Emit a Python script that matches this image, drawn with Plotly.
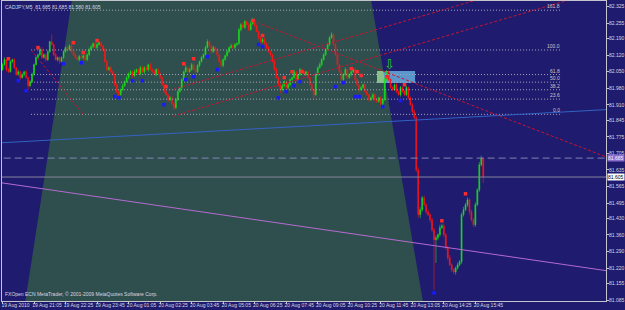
import plotly.graph_objects as go

# ---------------- data ----------------
symbol_title = "CADJPY,M5  81.685 81.685 81.580 81.605"
copyright_text = "FXOpen ECN MetaTrader, \u00a9 2001-2009 MetaQuotes Software Corp."

first_open = 82.059
closes = [
    82.080, 82.101, 82.059, 82.050, 82.093,
    82.101, 82.067, 82.038, 82.050, 82.025,
    82.038, 82.050, 82.025, 81.991, 82.008,
    82.038, 82.080, 82.110, 82.122, 82.144,
    82.110, 82.122, 82.101, 82.135, 82.177,
    82.165, 82.122, 82.101, 82.110, 82.093,
    82.110, 82.135, 82.152, 82.144, 82.160,
    82.135, 82.122, 82.110, 82.101, 82.114,
    82.110, 82.118, 82.101, 82.122, 82.144,
    82.156, 82.169, 82.152, 82.165, 82.173, 82.160,
    82.144, 82.093, 82.059, 82.067, 82.050,
    82.038, 81.995, 81.966, 81.953, 81.974,
    81.991, 82.008, 82.025, 82.042, 82.050,
    82.034, 82.050, 82.059, 82.042, 82.067,
    82.050, 82.067, 82.059, 82.080, 82.059,
    82.050, 82.038, 82.059, 82.042, 82.025,
    81.995, 81.966, 81.953, 81.932, 81.940,
    81.915, 81.898, 81.932, 81.966, 81.983,
    82.017, 82.050, 82.067, 82.050, 82.059,
    82.080, 82.059, 82.050, 82.076, 82.093, 82.110,
    82.122, 82.152, 82.177, 82.160, 82.135,
    82.152, 82.144, 82.122, 82.093, 82.076,
    82.101, 82.118, 82.135, 82.152, 82.160,
    82.152, 82.165, 82.169, 82.228, 82.249,
    82.237, 82.262, 82.249, 82.228, 82.253,
    82.270, 82.245, 82.220, 82.194, 82.177,
    82.186, 82.169, 82.152, 82.135, 82.122,
    82.093, 82.059, 82.025, 81.995, 81.974,
    81.991, 82.008, 81.983, 81.995, 82.017,
    82.025, 82.050, 82.017, 82.038, 82.059, 82.050,
    82.038, 82.050, 82.025, 81.995, 81.974,
    81.953, 82.038, 82.067, 82.080, 82.101,
    82.122, 82.144, 82.165, 82.194, 82.207,
    82.165, 82.122, 82.080, 82.050, 82.017,
    82.038, 82.059, 82.025, 82.038, 82.050,
    82.059, 82.017, 81.995, 81.974, 81.983,
    81.995, 81.966, 81.953, 81.932, 81.940,
    81.953, 81.932, 81.924, 81.940, 81.915,
    81.932, 82.017, 82.050, 82.017, 81.983,
    81.974, 81.995, 81.966, 81.953, 81.983, 81.966,
    81.953, 81.983, 81.940, 81.911, 81.881,
    81.856, 81.636, 81.446, 81.467, 81.517,
    81.488, 81.458, 81.446, 81.424, 81.382,
    81.340, 81.348, 81.361, 81.391, 81.399,
    81.361, 81.306, 81.264, 81.234, 81.213,
    81.204, 81.221, 81.234, 81.247, 81.446,
    81.467, 81.488, 81.509, 81.458, 81.424,
    81.403, 81.488, 81.551, 81.657, 81.685,
    81.605,
]
upper_wicks = [
    .006, .010, .004, .008, .005,
    .004, .007, .003, .009, .005,
    .006, .004, .008, .005, .007,
    .009, .005, .006, .004, .008,
    .010, .006, .005, .007, .004,
    .030, .005, .008, .004, .006,
    .005, .007, .004, .009, .006,
    .008, .005, .006, .004, .007,
    .006, .004, .009, .005, .008,
    .007, .005, .004, .008, .006, .005,
    .004, .006, .008, .005, .007,
    .006, .004, .007, .009, .005,
    .008, .005, .006, .004, .007,
    .005, .009, .004, .006, .008,
    .007, .005, .006, .004, .009,
    .006, .008, .005, .007, .004,
    .005, .006, .009, .004, .007,
    .008, .005, .006, .007, .004,
    .006, .004, .012, .005, .008,
    .007, .009, .005, .006, .004, .006,
    .005, .008, .010, .006, .004,
    .007, .005, .006, .004, .008,
    .006, .004, .007, .005, .009,
    .005, .006, .004, .008, .006,
    .010, .007, .005, .009, .012,
    .008, .006, .005, .004, .007,
    .006, .009, .005, .007, .004,
    .005, .006, .008, .004, .007,
    .009, .006, .005, .007, .004,
    .006, .008, .005, .004, .007, .005,
    .007, .004, .006, .005, .008,
    .004, .006, .005, .009, .007,
    .006, .005, .008, .006, .010,
    .007, .005, .006, .004, .008,
    .006, .009, .005, .007, .004,
    .005, .007, .006, .004, .008,
    .006, .004, .007, .005, .006,
    .008, .005, .006, .004, .007,
    .005, .007, .009, .006, .004,
    .006, .005, .008, .004, .007, .005,
    .006, .008, .004, .005, .007,
    .009, .006, .010, .012, .008,
    .010, .007, .012, .006, .009,
    .008, .010, .006, .012, .009,
    .010, .007, .008, .012, .006,
    .008, .006, .010, .007, .009,
    .012, .008, .010, .006, .009,
    .008, .010, .006, .012, .010,
    .000,
]
lower_wicks = [
    .005, .004, .008, .006, .003,
    .007, .005, .006, .004, .009,
    .004, .008, .005, .018, .006,
    .005, .007, .004, .006, .005,
    .006, .004, .008, .005, .007,
    .005, .006, .004, .008, .010,
    .004, .006, .005, .007, .004,
    .006, .005, .007, .004, .010,
    .005, .008, .004, .006, .005,
    .004, .006, .005, .007, .004, .006,
    .008, .005, .006, .004, .007,
    .005, .007, .006, .012, .004,
    .006, .005, .004, .007, .005,
    .010, .006, .005, .004, .007,
    .005, .010, .006, .008, .004,
    .006, .005, .007, .004, .006,
    .005, .008, .006, .010, .007,
    .008, .010, .005, .006, .004,
    .006, .005, .004, .007, .005,
    .004, .006, .008, .005, .007, .004,
    .006, .005, .004, .007, .010,
    .005, .006, .008, .004, .010,
    .007, .004, .005, .006, .004,
    .005, .007, .006, .004, .008,
    .004, .006, .005, .007, .004,
    .005, .006, .004, .007, .010,
    .006, .005, .008, .004, .007,
    .005, .006, .004, .008, .015,
    .006, .005, .010, .007, .004,
    .005, .004, .008, .006, .005, .004,
    .006, .005, .007, .004, .008,
    .020, .006, .005, .004, .007,
    .004, .006, .005, .007, .004,
    .006, .005, .004, .007, .010,
    .008, .005, .006, .004, .007,
    .005, .006, .008, .012, .005,
    .006, .007, .005, .008, .006,
    .005, .008, .006, .004, .010,
    .008, .005, .006, .007, .004,
    .006, .005, .007, .004, .008, .005,
    .005, .006, .007, .004, .008,
    .006, .010, .012, .015, .008,
    .007, .010, .006, .012, .009,
    .212, .098, .010, .008, .006,
    .010, .008, .012, .006, .010,
    .009, .012, .008, .006, .010,
    .008, .006, .010, .012, .007,
    .010, .008, .006, .009, .007,
    .025,
]

# fractal marks (bar index, price)
up_fractal_bars = [3, 18, 36, 41, 48, 83, 92, 97, 127, 132, 143, 147, 152, 177, 180, 182, 195, 204, 223, 235]
up_fractal_prices = [82.105, 82.152, 82.173, 82.131, 82.182, 81.987, 82.084, 82.105, 82.266, 82.203,
                     82.025, 82.050, 82.050, 82.063, 82.050, 82.034, 82.029, 81.995, 81.420, 81.534]
down_fractal_bars = [8, 12, 31, 40, 57, 59, 66, 71, 82, 93, 97, 104, 109, 130, 132, 140, 144, 148, 151,
                     169, 173, 179, 181, 193, 202, 219]
down_fractal_prices = [82.012, 81.970, 82.084, 82.088, 81.945, 81.940, 82.012, 82.012, 81.911, 82.017,
                       82.029, 82.114, 82.059, 82.165, 82.156, 81.940, 81.966, 81.991, 82.008,
                       81.987, 82.004, 81.945, 81.945, 81.902, 81.928, 81.115]

# time axis labels (every 16 bars of 5 minutes)
time_tick_bars = [0, 16, 32, 48, 64, 80, 96, 112, 128, 144, 160, 176, 192, 208, 224, 240]
time_tick_labels = ["19 Aug 2010", "19 Aug 21:05", "19 Aug 22:25", "19 Aug 23:45", "20 Aug 01:05",
                    "20 Aug 02:25", "20 Aug 03:45", "20 Aug 05:05", "20 Aug 06:25", "20 Aug 07:45",
                    "20 Aug 09:05", "20 Aug 10:25", "20 Aug 11:45", "20 Aug 13:05", "20 Aug 14:25",
                    "20 Aug 15:45"]
price_tick_labels = ["82.325", "82.255", "82.190", "82.120", "82.050", "81.980", "81.910", "81.845",
                     "81.775", "81.705", "81.635", "81.565", "81.495", "81.430", "81.360", "81.290",
                     "81.220", "81.155", "81.085"]

bid_price = 81.605
ask_price = 81.685

# Fibonacci retracement object
fib_anchor_bars = [14.5, 41.0]
fib_anchor_prices = [82.142, 81.870]   # 100% , 0%
fib_levels = [0.0, 23.6, 38.2, 50.0, 61.8, 100.0, 161.8]
fib_level_labels = ["0.0", "23.6", "38.2", "50.0", "61.8", "100.0", "161.8"]
fib_end_bar = 284.0

# trend objects: (bar, price) anchor pairs, drawn as rays to the right
channel_base = [(86.5, 81.862), (201.8, 82.144)]
channel_parallel = [(86.5, 81.975), (201.8, 82.258)]
falling_trend = [(126.7, 82.266), (304.8, 81.695)]
blue_line = [(0.0, 81.750), (300.0, 81.887)]
violet_line = [(0.0, 81.580), (300.0, 81.217)]

# filled (dark slate gray) triangle region
zone_bars = [36.1, 186.1, 215.0, 10.1]
zone_prices = [82.40, 82.40, 81.00, 81.00]

# rectangle object and arrow
rect_bars = [190.1, 209.4]
rect_prices = [82.002, 82.053]
arrow_bar, arrow_price = 196.4, 82.082

# ---------------- styling ----------------
BG = "#1f1b6e"
FRAME = "#c4c4cc"
TXT = "#d8d8e0"
FONT = "Liberation Sans"
FS = 5
X_RANGE = [-0.25, 306.3]
Y_RANGE = [81.081, 82.349]

n = len(closes)
bars = list(range(n))
opens = [first_open] + closes[:-1]
highs = [max(o, c) + u for o, c, u in zip(opens, closes, upper_wicks)]
lows = [min(o, c) - d for o, c, d in zip(opens, closes, lower_wicks)]


def ray(points, x_end=330.0, x_start=None):
    (x1, y1), (x2, y2) = points
    s = (y2 - y1) / (x2 - x1)
    xs = x1 if x_start is None else x_start
    return [xs, x_end], [y1 + s * (xs - x1), y1 + s * (x_end - x1)]


fig = go.Figure()

path = "M " + " L ".join(f"{b},{p}" for b, p in zip(zone_bars, zone_prices)) + " Z"
fig.add_shape(type="path", path=path, xref="x", yref="y", layer="below",
              fillcolor="#2f4f4f", line=dict(width=0))
fig.add_shape(type="rect", x0=rect_bars[0], x1=rect_bars[1], y0=rect_prices[0], y1=rect_prices[1],
              xref="x", yref="y", layer="below", fillcolor="#5b96cc", line=dict(width=0))


def edge_bar(price):
    t = (price - zone_prices[1]) / (zone_prices[2] - zone_prices[1])
    return zone_bars[1] + t * (zone_bars[2] - zone_bars[1])


gp = (f"M {rect_bars[0]},{rect_prices[0]} L {edge_bar(rect_prices[0])},{rect_prices[0]} "
      f"L {edge_bar(rect_prices[1])},{rect_prices[1]} L {rect_bars[0]},{rect_prices[1]} Z")
fig.add_shape(type="path", path=gp, xref="x", yref="y", layer="below",
              fillcolor="#86c48a", line=dict(width=0))

p0, p100 = fib_anchor_prices[1], fib_anchor_prices[0]
for lvl, lab in zip(fib_levels, fib_level_labels):
    pr = p0 + lvl / 100.0 * (p100 - p0)
    fig.add_trace(go.Scatter(x=[fib_anchor_bars[0], fib_end_bar], y=[pr, pr], mode="lines",
                             line=dict(color="#a8a8b8", width=1, dash="1px,2px"), hoverinfo="skip"))
    fig.add_annotation(x=fib_end_bar, y=pr, xref="x", yref="y", text=lab, showarrow=False,
                       xanchor="right", yanchor="bottom", yshift=-1,
                       font=dict(family=FONT, size=FS, color="#c8c8d0"))

fig.add_trace(go.Scatter(x=fib_anchor_bars, y=fib_anchor_prices, mode="lines",
                         line=dict(color="#c8142e", width=1, dash="3px,2px"), hoverinfo="skip"))

bx, by = ray(blue_line, x_start=-5)
fig.add_trace(go.Scatter(x=bx, y=by, mode="lines", line=dict(color="#3362c4", width=1), hoverinfo="skip"))
vx, vy = ray(violet_line, x_start=-5)
fig.add_trace(go.Scatter(x=vx, y=vy, mode="lines", line=dict(color="#b56ad0", width=1), hoverinfo="skip"))

for pts in (channel_base, channel_parallel, falling_trend):
    rx, ry = ray(pts)
    fig.add_trace(go.Scatter(x=rx, y=ry, mode="lines",
                             line=dict(color="#c8142e", width=1, dash="3px,2px"), hoverinfo="skip"))

fig.add_trace(go.Scatter(x=[-5, 330], y=[ask_price, ask_price], mode="lines",
                         line=dict(color="#8484b4", width=1, dash="7px,4px"), hoverinfo="skip"))
fig.add_trace(go.Scatter(x=[-5, 330], y=[bid_price, bid_price], mode="lines",
                         line=dict(color="#84849a", width=1), hoverinfo="skip"))

fig.add_trace(go.Candlestick(
    x=bars, open=opens, high=highs, low=lows, close=closes,
    increasing=dict(line=dict(color="#18e018", width=0.6), fillcolor="#18e018"),
    decreasing=dict(line=dict(color="#ff1616", width=0.6), fillcolor="#ff1616"),
    whiskerwidth=0, hoverinfo="skip"))

fig.add_trace(go.Scatter(x=up_fractal_bars, y=up_fractal_prices, mode="markers",
                         marker=dict(symbol="square", size=3.5, color="#ff2a2a", line=dict(width=0)),
                         hoverinfo="skip"))
fig.add_trace(go.Scatter(x=down_fractal_bars, y=down_fractal_prices, mode="markers",
                         marker=dict(symbol="square", size=3.5, color="#1a1aff", line=dict(width=0)),
                         hoverinfo="skip"))

fig.add_annotation(x=arrow_bar, y=arrow_price, xref="x", yref="y", text="\u21e9", showarrow=False,
                   font=dict(family="DejaVu Sans", size=13, color="#22d022"))

fig.add_annotation(x=0, y=1, xref="paper", yref="paper", text=symbol_title, showarrow=False,
                   xanchor="left", yanchor="top", xshift=1, yshift=-1,
                   font=dict(family=FONT, size=FS, color=TXT))
fig.add_annotation(x=0, y=0, xref="paper", yref="paper", text=copyright_text, showarrow=False,
                   xanchor="left", yanchor="bottom", xshift=1, yshift=2,
                   font=dict(family=FONT, size=FS, color=TXT))

fig.add_annotation(x=1, y=ask_price, xref="paper", yref="y", text=f"{ask_price:.3f}", showarrow=False,
                   xanchor="left", xshift=1, bgcolor="#8a6fcf", borderpad=0,
                   font=dict(family=FONT, size=FS, color="#f0f0ff"))
fig.add_annotation(x=1, y=bid_price, xref="paper", yref="y", text=f"{bid_price:.3f}", showarrow=False,
                   xanchor="left", xshift=1, bgcolor="#ffffff", borderpad=0,
                   font=dict(family=FONT, size=FS, color="#000000"))

fig.update_layout(
    template="none", width=625, height=310, showlegend=False,
    margin=dict(l=2, r=19, t=1, b=9, pad=0),
    paper_bgcolor=BG, plot_bgcolor=BG,
    xaxis=dict(range=X_RANGE, showgrid=False, zeroline=False, showline=True, mirror=True,
               linecolor=FRAME, linewidth=1, ticks="outside", ticklen=2, tickcolor=FRAME,
               tickvals=time_tick_bars, ticktext=time_tick_labels, ticklabelshift=13,
               ticklabelstandoff=-3, tickangle=0,
               tickfont=dict(family=FONT, size=FS, color=TXT), automargin=False,
               rangeslider=dict(visible=False), fixedrange=True),
    yaxis=dict(range=Y_RANGE, side="right", showgrid=False, zeroline=False, showline=True, mirror=True,
               linecolor=FRAME, linewidth=1, ticks="outside", ticklen=2, tickcolor=FRAME,
               tickvals=[float(t) for t in price_tick_labels], ticktext=price_tick_labels,
               ticklabelstandoff=-1,
               tickfont=dict(family=FONT, size=FS, color=TXT), automargin=False, fixedrange=True),
)

fig.write_html("out.html")
